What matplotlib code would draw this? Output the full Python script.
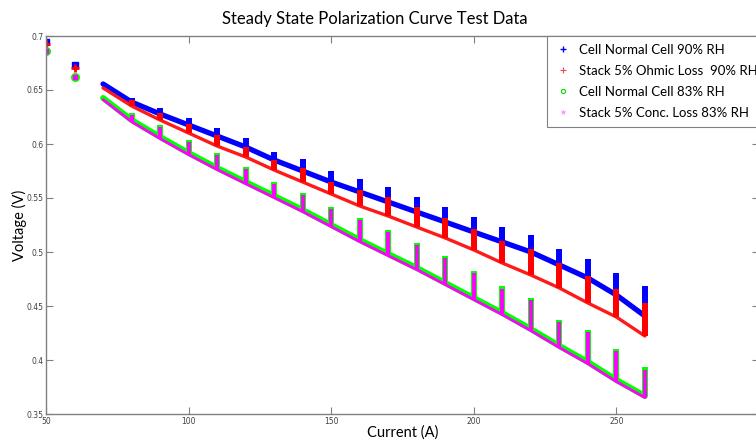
import matplotlib.pyplot as plt
from matplotlib.lines import Line2D
from matplotlib.ticker import FormatStrFormatter

# isolated readings at the first two currents
pt_current = [50, 60]
pt_blue = [0.6942, 0.6729]
pt_red = [0.6923, 0.6701]
pt_green = [0.6861, 0.6623]
pt_magenta = [0.6858, 0.6620]

# current steps of the sweep (A)
steps = [70, 80, 90, 100, 110, 120, 130, 140, 150, 160,
         170, 180, 190, 200, 210, 220, 230, 240, 250, 260]

# voltage where the ramp reaches each step (V)
blue_curve = [0.6556, 0.6389, 0.6278, 0.6176, 0.6074, 0.5972, 0.5852, 0.5750, 0.5648, 0.5556,
              0.5463, 0.5370, 0.5278, 0.5185, 0.5093, 0.5000, 0.4880, 0.4759, 0.4602, 0.4407]
red_curve = [0.6519, 0.6352, 0.6222, 0.6102, 0.5981, 0.5880, 0.5759, 0.5648, 0.5537, 0.5426,
             0.5333, 0.5231, 0.5130, 0.5019, 0.4898, 0.4787, 0.4667, 0.4528, 0.4398, 0.4222]
green_curve = [0.6426, 0.6222, 0.6065, 0.5917, 0.5778, 0.5648, 0.5519, 0.5389, 0.5250, 0.5111,
               0.4981, 0.4852, 0.4713, 0.4574, 0.4435, 0.4287, 0.4130, 0.3981, 0.3815, 0.3667]
magenta_curve = [0.6411, 0.6207, 0.6050, 0.5902, 0.5763, 0.5633, 0.5504, 0.5374, 0.5235, 0.5096,
                 0.4966, 0.4837, 0.4698, 0.4559, 0.4420, 0.4272, 0.4115, 0.3966, 0.3800, 0.3652]

# top of the relaxation spike at each step from 80 A on (V)
spike_steps = steps[1:]
blue_top = [0.6429, 0.6331, 0.6238, 0.6145, 0.6053, 0.5929, 0.5858, 0.5750, 0.5673, 0.5599,
            0.5512, 0.5419, 0.5327, 0.5229, 0.5157, 0.5025, 0.4932, 0.4808, 0.4685]
red_top = [0.6407, 0.6284, 0.6182, 0.6083, 0.5975, 0.5852, 0.5775, 0.5651, 0.5574, 0.5506,
           0.5414, 0.5312, 0.5210, 0.5105, 0.5028, 0.4895, 0.4778, 0.4655, 0.4531]
green_top = [0.6284, 0.6176, 0.6037, 0.5914, 0.5790, 0.5648, 0.5549, 0.5419, 0.5312, 0.5204,
             0.5086, 0.4963, 0.4827, 0.4682, 0.4571, 0.4370, 0.4278, 0.4099, 0.3931]
magenta_top = [0.6264, 0.6156, 0.6017, 0.5894, 0.5770, 0.5628, 0.5529, 0.5399, 0.5292, 0.5184,
               0.5066, 0.4943, 0.4807, 0.4662, 0.4551, 0.4350, 0.4258, 0.4079, 0.3911]

labels = ["Cell Normal Cell 90% RH", "Stack 5% Ohmic Loss  90% RH",
          "Cell Normal Cell 83% RH", "Stack 5% Conc. Loss 83% RH"]

fig = plt.figure(figsize=(7.56, 4.4), dpi=100)
ax = fig.add_axes([46 / 756, 26 / 440, 713 / 756, 378 / 440])

# 90% RH
ax.plot(steps, blue_curve, color="#0000ff", lw=3.8, solid_capstyle="round")
ax.vlines(spike_steps, blue_curve[1:], blue_top, color="#0000ff", lw=4.3)
ax.plot(pt_current, pt_blue, ls="none", marker="s", ms=4.5, color="#0000ff")
ax.plot(steps, red_curve, color="#ff1a1a", lw=2.4, solid_capstyle="round")
ax.vlines(spike_steps, red_curve[1:], red_top, color="#ff0000", lw=4.3)
ax.plot(pt_current, pt_red, ls="none", marker="+", ms=6, mew=2, color="#ff0000")

# 83% RH
ax.plot(steps, green_curve, color="#00ff00", lw=4.3, solid_capstyle="round")
ax.vlines(spike_steps, green_curve[1:], green_top, color="#00ff00", lw=4.3)
ax.plot(pt_current, pt_green, ls="none", marker="o", ms=5, mfc="none", mew=1.5, color="#00ff00")
ax.plot(steps, magenta_curve, color="#ff00ff", lw=2, solid_capstyle="round")
ax.vlines(spike_steps, magenta_curve[1:], magenta_top, color="#ff00ff", lw=2.8)
ax.plot(pt_current, pt_magenta, ls="none", marker="s", ms=2.5, color="#ff00ff")

ax.set_xlim(50, 300)
ax.set_ylim(0.35, 0.7)
ax.set_xticks([50, 100, 150, 200, 250])
ax.set_yticks([0.35, 0.4, 0.45, 0.5, 0.55, 0.6, 0.65, 0.7])
ax.yaxis.set_major_formatter(FormatStrFormatter("%g"))
ax.tick_params(direction="in", length=5, width=0.8, top=True, right=True,
               labelsize=5.5, color="#808080", labelcolor="#404040", pad=2)
for s in ax.spines.values():
    s.set_color("#808080")
    s.set_linewidth(1)

font = "Lato"
fig.text(375 / 756, 1 - 19 / 440, "Steady State Polarization Curve Test Data",
         ha="center", va="center", fontsize=12, family=font)
fig.text(19 / 756, 1 - 225 / 440, "Voltage (V)", rotation=90,
         ha="center", va="center", fontsize=10.5, family=font)
fig.text(403 / 756, 1 - 433 / 440, "Current (A)",
         ha="center", va="center", fontsize=10.5, family=font)

handles = [
    Line2D([], [], ls="none", marker="+", ms=4, mew=1, color="#0000ff"),
    Line2D([], [], ls="none", marker="+", ms=4, mew=0.8, color="#ff4444"),
    Line2D([], [], ls="none", marker="o", ms=3, mfc="none", mew=0.8, color="#00dd00"),
    Line2D([], [], ls="none", marker="*", ms=3.5, mew=0.5, color="#ff99ff"),
]
leg = fig.legend(handles, labels, loc="upper left",
                 bbox_to_anchor=(547 / 756, 1 - 36 / 440), bbox_transform=fig.transFigure,
                 borderaxespad=0, fancybox=False, framealpha=1, edgecolor="#808080",
                 prop={"family": font, "size": 9.5}, handlelength=1.2, handletextpad=0.6,
                 labelspacing=0.68, borderpad=0.6)
leg.get_frame().set_linewidth(0.8)

fig.savefig("out.png", dpi=100)
